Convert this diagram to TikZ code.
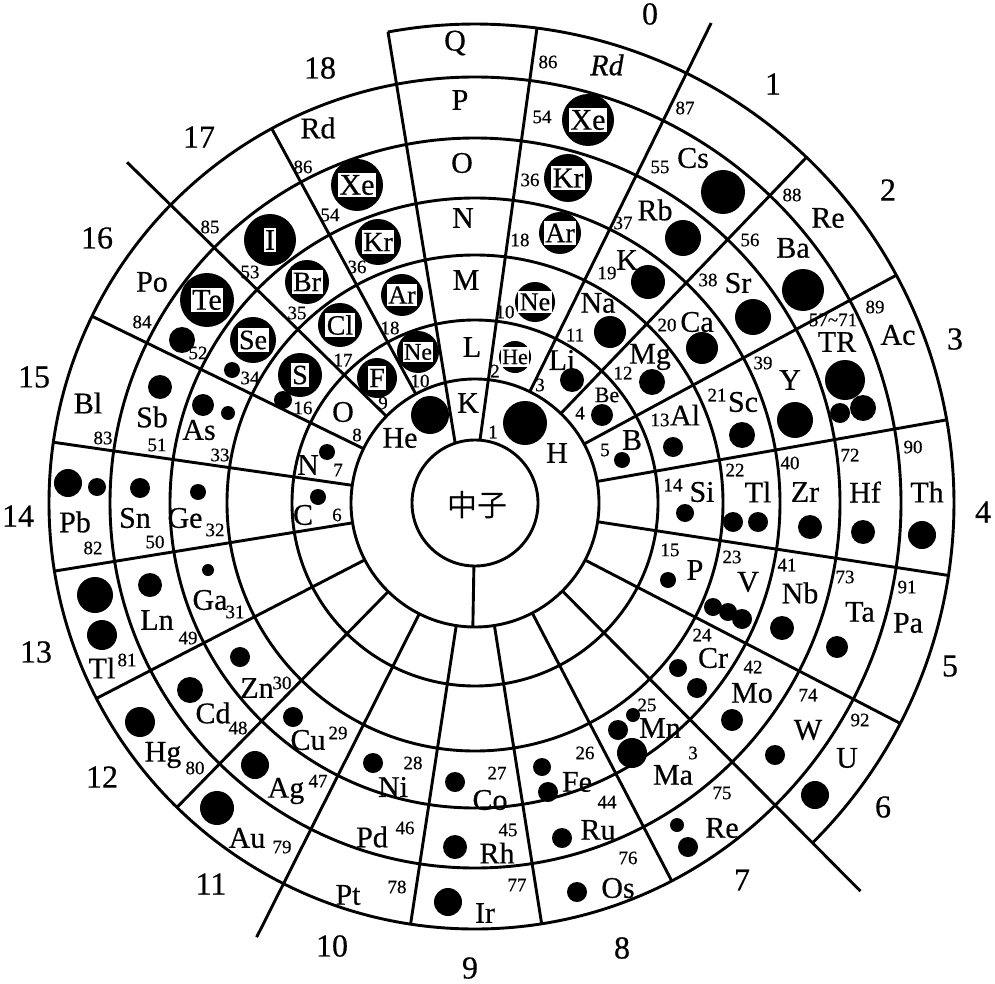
\documentclass[tikz,border=0pt]{standalone}
\usepackage{fontspec}
\setmainfont{Liberation Serif}[FakeBold=0.5]
\newfontfamily\cjkfont{Noto Sans CJK SC}
\newcommand{\gasdisc}[5]{%
  \fill (#1,#2) circle[radius=#3pt];
  \node[bx, font=\fontsize{#5}{#5}\selectfont] at (#1,#2) {#4};}
\begin{document}
\begin{tikzpicture}[x=1pt,y=-1pt,
  ln/.style={line width=2.9pt},
  el/.style={font=\fontsize{30}{30}\selectfont, inner sep=0pt},
  sel/.style={font=\fontsize{22}{22}\selectfont, inner sep=0pt},
  num/.style={font=\fontsize{19}{19}\selectfont, inner sep=0pt},
  grp/.style={font=\fontsize{32}{32}\selectfont, inner sep=0pt},
  bx/.style={fill=white, inner xsep=1.5pt, inner ysep=2.5pt},
]
\path[use as bounding box] (0,0) rectangle (995,984);
\coordinate (C) at (475,503);
% rings
\foreach \rad in {63,124,183,248,305,365,426}
  \draw[ln] (C) circle[radius=\rad pt];
\draw[ln] plot[domain=-45.2:100.5, samples=160] ({475+479*cos(\x)},{503-479*sin(\x)});
% radial lines
\foreach \a/\ri/\ro in {10.0/124/479, 28.4/124/479, 46.2/124/479, 63.8/124/535,
  118.5/124/426, 135.6/124/487, 154.0/124/426, 171.8/124/426, 189.2/124/426,
  207.3/124/426, 225.6/124/426, 243.3/124/486, 261.3/124/426, 279.0/124/426,
  297.5/124/426, 314.8/124/547, 332.6/124/479, 351.3/124/479, 269/63/124}
  \draw[ln] ({475+\ri*cos(\a)},{503-\ri*sin(\a)}) -- ({475+\ro*cos(\a)},{503-\ro*sin(\a)});
% shell column
\draw[ln] (455,442) -- (388,32);
\draw[ln] (480,440) -- (537,28);
\node[font=\cjkfont\fontsize{30}{30}\selectfont] (core) at (477,505) {中子};
% dots
\foreach \x/\y/\rr in {430/415/19, 525/423/22,
  572/380/12, 602/415/11, 622/460/8, 318/497/8, 327/452/8,
  610/332/16, 652/382/13, 673/447/10, 685/513/9, 668/580/8, 283/400/9,
  648/282/17, 702/348/16, 742/435/13, 733/522/10, 758/522/10,
  713/607/9, 728/612/9, 742/619/10, 678/668/9, 697/688/10,
  633/715/7, 618/730/10, 632/753/15, 542/767/9, 548/792/10,
  455/782/10, 373/763/10, 293/717/10, 240/657/10, 208/570/6,
  198/492/8, 203/405/11, 228/413/7, 232/370/8,
  683/238/18, 753/317/18, 795/420/18, 810/527/12, 782/628/12, 732/720/11,
  562/838/10, 455/847/12, 255/765/14, 190/690/13, 150/585/12, 140/488/10,
  160/387/12, 182/340/13,
  723/192/22, 803/290/21, 845/380/20, 840/413/10, 863/408/13, 863/532/12,
  837/647/11, 775/755/10, 677/825/7, 688/847/10, 577/892/10, 448/902/14,
  217/808/17, 140/722/15, 95/595/18, 102/635/15, 68/483/14, 97/487/9,
  922/535/14, 815/795/14}
  \fill (\x,\y) circle[radius=\rr pt];
% noble gases, halogens, chalcogens
\gasdisc{515}{357}{16}{He}{22}
\gasdisc{535}{302}{20}{Ne}{26}
\gasdisc{560}{233}{21}{Ar}{28}
\gasdisc{568}{178}{24}{Kr}{29}
\gasdisc{588}{120}{26}{Xe}{30}
\gasdisc{418}{352}{21}{Ne}{24}
\gasdisc{402}{295}{21}{Ar}{26}
\gasdisc{378}{242}{23}{Kr}{28}
\gasdisc{357}{185}{26}{Xe}{30}
\gasdisc{377}{378}{20}{F}{28}
\gasdisc{340}{325}{22}{Cl}{28}
\gasdisc{307}{282}{22}{Br}{28}
\gasdisc{270}{240}{26}{I}{30}
\gasdisc{300}{375}{22}{S}{28}
\gasdisc{253}{340}{23}{Se}{28}
\gasdisc{207}{300}{27}{Te}{30}
% group labels
\foreach \x/\y/\t in {650/14/0, 773/84/1, 888/190/2, 955/339/3, 983/512/4,
  950/666/5, 883/807/6, 742/880/7, 622/948/8, 470/968/9, 332/946/10,
  211/884/11, 102/777/12, 36/652/13, 18/516/14, 34/377/15, 97/238/16,
  199/137/17, 320/68/18}
  \node[grp] at (\x,\y) {\t};
% shells
\foreach \x/\y/\t in {468/403/K, 472/347/L, 466/280/M, 463/218/N, 462/163/O, 460/100/P, 455/43/Q}
  \node[el] at (\x,\y) {\t};
% element symbols
\foreach \x/\y/\t in {400/438/He, 557/453/H,
  562/360/Li, 632/440/B, 303/515/C, 308/465/N, 343/412/O,
  598/303/Na, 650/357/Mg, 685/415/Al, 702/492/Si, 695/570/P,
  627/260/K, 697/322/Ca, 743/402/Sc, 758/492/Tl, 748/582/V, 713/658/Cr,
  660/728/Mn, 577/782/Fe, 490/800/Co, 393/787/Ni, 308/740/Cu, 257/688/Zn,
  210/600/Ga, 185/518/Ge, 199/430/As,
  655/210/Rb, 738/283/Sr, 790/380/Y, 805/492/Zr, 800/593/Nb, 752/693/Mo,
  673/775/Ma, 598/830/Ru, 497/853/Rh, 372/837/Pd, 286/791/Ag, 213/713/Cd,
  157/620/Ln, 135/518/Sn, 152/417/Sb,
  693/158/Cs, 793/248/Ba, 837/342/TR, 865/492/Hf, 860/612/Ta, 808/730/W,
  722/828/Re, 618/888/Os, 485/913/Ir, 348/895/Pt, 247/838/Au, 163/755/Hg,
  102/668/Tl, 75/522/Pb, 88/403/Bl, 152/282/Po, 318/128/Rd,
  828/218/Re, 898/335/Ac, 927/492/Th, 908/623/Pa, 847/758/U}
  \node[el] at (\x,\y) {\t};
\node[sel] at (607,395) {Be};
\node[el] at (607,65) {\textit{Rd}};
% atomic numbers
\foreach \x/\y/\t in {493/432/1, 495/371/2, 540/385/3, 580/413/4, 605/450/5,
  337/515/6, 338/470/7, 357/435/8, 383/403/9, 420/381/10,
  505/312/10, 575/335/11, 623/373/12, 660/420/13, 673/485/14, 670/550/15,
  303/408/16, 343/360/17, 390/328/18,
  520/240/18, 607/273/19, 667/325/20, 717/395/21, 735/470/22, 732/557/23,
  702/635/24, 647/705/25, 585/753/26, 497/773/27, 413/763/28, 338/733/29,
  282/683/30, 235/612/31, 215/530/32, 220/455/33, 250/378/34, 297/313/35,
  357/267/36,
  530/180/36, 623/223/37, 708/280/38, 763/363/39, 790/463/40, 787/565/41,
  753/667/42, 693/753/3, 607/802/44, 508/830/45, 405/828/46, 318/781/47,
  238/728/48, 188/638/49, 155/542/50, 157/445/51, 198/353/52, 250/272/53,
  330/215/54,
  542/117/54, 660/167/55, 750/240/56, 850/455/72, 845/577/73, 808/695/74,
  722/793/75, 628/858/76, 517/885/77, 397/887/78, 282/847/79, 195/768/80,
  127/660/81, 93/548/82, 103/438/83, 142/322/84, 210/227/85, 303/167/86,
  548/62/86, 685/108/87, 792/195/88, 875/307/89, 913/447/90, 907/587/91,
  860/720/92}
  \node[num] at (\x,\y) {\t};
\node[num] at (833,320) {57\textasciitilde 71};
\end{tikzpicture}
\end{document}
